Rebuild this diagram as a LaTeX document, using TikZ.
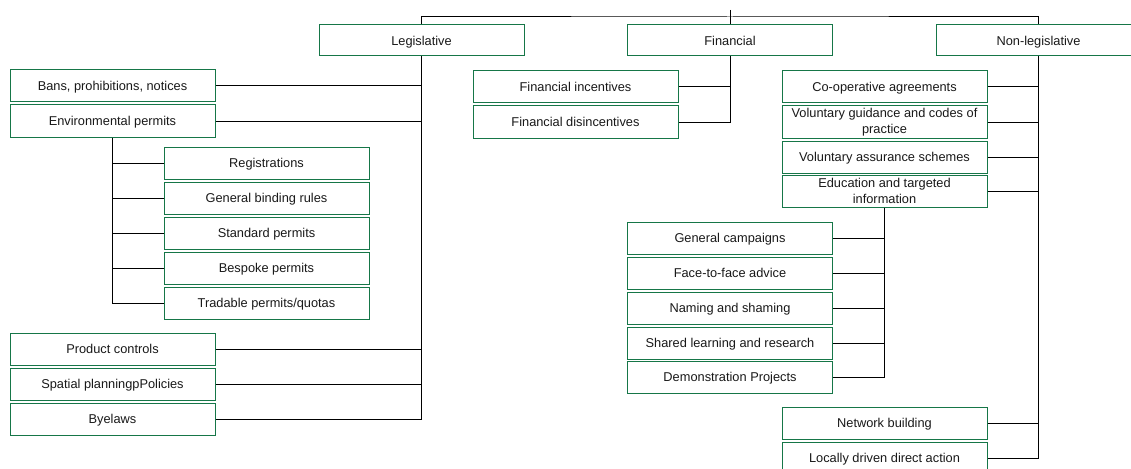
\documentclass[tikz,border=0pt]{standalone}
\usepackage{fontspec}
\setmainfont{Liberation Sans}
\definecolor{boxgreen}{RGB}{22,118,72}
\definecolor{inktext}{RGB}{25,25,25}
\begin{document}
\begin{tikzpicture}[x=1pt,y=-1pt,
  cat/.style={draw=boxgreen,line width=1pt,minimum width=205pt,minimum height=32pt,
    inner sep=0pt,align=center,text=inktext,font=\fontsize{12.8}{13.5}\selectfont},
  one/.style={cat,text height=9.2pt,text depth=0pt},
  link/.style={draw=black,line width=1pt}]
\useasboundingbox (0,0) rectangle (1131,468);
\clip (0,0) rectangle (1131,468);
\fill[white] (0,0) rectangle (1131,468);

% top level
\node[one,minimum height=31pt] (leg) at (421.5,40.5) {Legislative};
\node[one,minimum height=31pt] (fin) at (730,40.5) {Financial};
\node[one,minimum height=31pt] (nonleg) at (1038.5,40.5) {Non-legislative};

% legislative branch
\node[one] (bans) at (112.5,86) {Bans, prohibitions, notices};
\node[one] (env) at (112.5,121) {Environmental permits};
\node[one] (reg) at (266.5,163) {Registrations};
\node[one] (gbr) at (266.5,198) {General binding rules};
\node[one] (std) at (266.5,233) {Standard permits};
\node[one] (besp) at (266.5,268) {Bespoke permits};
\node[one] (trad) at (266.5,303) {Tradable permits/quotas};
\node[one] (prod) at (112.5,349) {Product controls};
\node[one] (spat) at (112.5,384) {Spatial planningpPolicies};
\node[one] (bye) at (112.5,419) {Byelaws};

% financial branch
\node[one] (finc) at (575.5,87) {Financial incentives};
\node[one] (fdis) at (575.5,122) {Financial disincentives};

% non-legislative branch
\node[one] (coop) at (884.5,87) {Co-operative agreements};
\node[cat] (volg) at (884.5,122) {Voluntary guidance and codes of\\[2pt]practice};
\node[one] (vola) at (884.5,157) {Voluntary assurance schemes};
\node[cat] (edu) at (884.5,191) {Education and targeted\\[2pt]information};
\node[one] (camp) at (730,238) {General campaigns};
\node[one] (face) at (730,273) {Face-to-face advice};
\node[one] (name) at (730,308) {Naming and shaming};
\node[one] (share) at (730,343) {Shared learning and research};
\node[one] (demo) at (730,377) {Demonstration Projects};
\node[one] (net) at (884.5,423) {Network building};
\node[one] (local) at (884.5,458) {Locally driven direct action};

% connectors
\coordinate (root) at (730,10);
\coordinate (bus) at (730,17);
\draw[link] (root) -- (bus);
\draw[link] (leg.north) |- (bus) -| (nonleg.north);
\draw[link] (fin.north) -- (bus);

\draw[link] (leg.south) |- (bye.east);
\foreach \n in {bans,env,prod,spat}
  \draw[link] (\n.east) -- (\n.east -| leg.south);

\draw[link] (env.south) |- (trad.west);
\foreach \n in {reg,gbr,std,besp}
  \draw[link] (\n.west) -- (\n.west -| env.south);

\draw[link] (fin.south) |- (fdis.east);
\draw[link] (finc.east) -- (finc.east -| fin.south);

\draw[link] (nonleg.south) |- (local.east);
\foreach \n in {coop,volg,vola,edu,net}
  \draw[link] (\n.east) -- (\n.east -| nonleg.south);

\draw[link] (edu.south) |- (demo.east);
\foreach \n in {camp,face,name,share}
  \draw[link] (\n.east) -- (\n.east -| edu.south);
\end{tikzpicture}
\end{document}
